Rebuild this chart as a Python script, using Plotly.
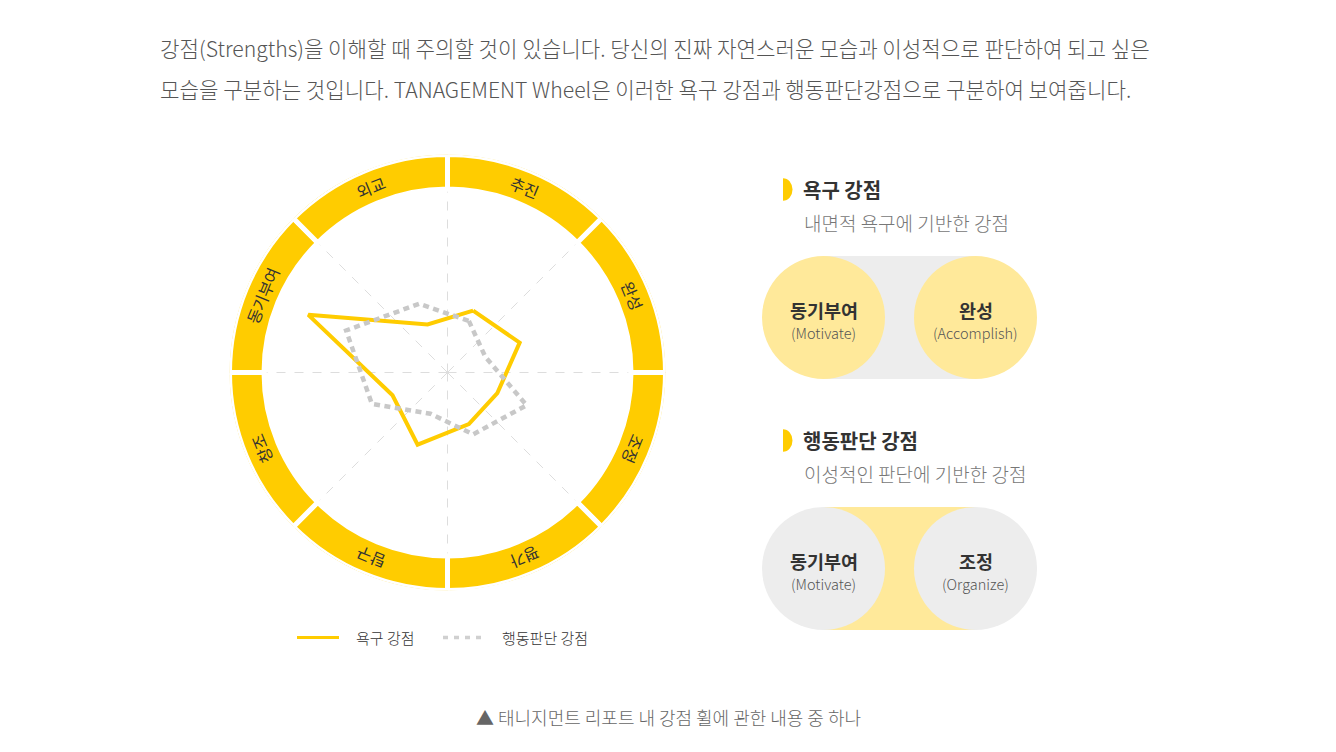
import math
import plotly.graph_objects as go

W, H = 1336, 752
FONT = 'Noto Sans CJK KR'

# wheel data (clockwise from the top)
categories = ['추진', '완성', '조정', '평가', '탐구', '창조', '동기부여', '외교']
desire = [36, 42, 29, 30, 42, 32, 81, 28]
judgement = [30, 22, 46, 36, 24, 44, 59, 40]
series_names = ['욕구 강점', '행동판단 강점']

header_lines = [
    '강점(Strengths)을 이해할 때 주의할 것이 있습니다. 당신의 진짜 자연스러운 모습과 이성적으로 판단하여 되고 싶은',
    '모습을 구분하는 것입니다. TANAGEMENT Wheel은 이러한 욕구 강점과 행동판단강점으로 구분하여 보여줍니다.',
]
panel_titles = ['욕구 강점', '행동판단 강점']
panel_subtitles = ['내면적 욕구에 기반한 강점', '이성적인 판단에 기반한 강점']
pill_main = [['동기부여', '완성'], ['동기부여', '조정']]
pill_sub = [['(Motivate)', '(Accomplish)'], ['(Motivate)', '(Organize)']]
caption = '▲ 태니지먼트 리포트 내 강점 휠에 관한 내용 중 하나'

YELLOW = '#FFCC00'
LIGHT_YELLOW = '#FFE99A'
LIGHT_GRAY = '#EDEDED'
DOT_GRAY = '#C8C8C8'
DASH = '6px,4.5px'

# wheel geometry in page pixels
CX, CY = 447.5, 372.5
PX_PER_UNIT = 1.86      # 100 -> inner edge of the ring
R_PX = 218
R_MAX = R_PX / PX_PER_UNIT
GAP = 5

step = 360 / len(categories)
theta = [step / 2 + step * i for i in range(len(categories))]

fig = go.Figure()

# outer ring
fig.add_trace(go.Barpolar(
    theta=theta, r=[R_MAX - (100 - GAP / 2 / PX_PER_UNIT)] * len(categories),
    base=100 - GAP / 2 / PX_PER_UNIT, width=[step] * len(categories),
    marker=dict(color=YELLOW, line=dict(color='white', width=GAP)),
    hoverinfo='skip',
))

fig.add_trace(go.Scatterpolar(
    theta=theta + theta[:1], r=desire + desire[:1], mode='lines',
    name=series_names[0], line=dict(color=YELLOW, width=4), hoverinfo='skip',
))
fig.add_trace(go.Scatterpolar(
    theta=theta + theta[:1], r=judgement + judgement[:1], mode='lines',
    name=series_names[1], line=dict(color=DOT_GRAY, width=4.5, dash=DASH), hoverinfo='skip',
))

# invisible trace so the pixel axes exist
fig.add_trace(go.Scatter(x=[0], y=[0], mode='markers', marker=dict(opacity=0),
                         hoverinfo='skip'))

fig.update_layout(
    width=W, height=H, autosize=False,
    margin=dict(l=0, r=0, t=0, b=0),
    paper_bgcolor='white', plot_bgcolor='rgba(0,0,0,0)',
    font=dict(family=FONT, color='#333', weight=300),
    showlegend=False,
    xaxis=dict(range=[0, W], visible=False, fixedrange=True),
    yaxis=dict(range=[H, 0], visible=False, fixedrange=True),
    polar=dict(
        domain=dict(x=[(CX - R_PX) / W, (CX + R_PX) / W],
                    y=[1 - (CY + R_PX) / H, 1 - (CY - R_PX) / H]),
        bgcolor='rgba(0,0,0,0)',
        radialaxis=dict(range=[0, R_MAX], visible=False, showgrid=False),
        angularaxis=dict(
            direction='clockwise', rotation=90,
            tickvals=[step * i for i in range(len(categories))],
            showticklabels=False, ticks='', showline=False,
            gridcolor='#DDDDDD', gridwidth=1, griddash='dash',
            layer='below traces',
        ),
    ),
    hovermode=False,
)

# ring labels
for cat, t in zip(categories, theta):
    rl = (100 * PX_PER_UNIT + R_PX - GAP / 2) / 2
    fig.add_annotation(
        x=CX + rl * math.sin(math.radians(t)), y=CY - rl * math.cos(math.radians(t)),
        xref='x', yref='y', text=cat, showarrow=False, textangle=t,
        font=dict(size=16, color='#333', weight=400),
    )

# legend under the wheel
legend_keys = [dict(color=YELLOW, width=3, dash='solid'),
               dict(color='#D0D0D0', width=3.5, dash='5px,6px')]
for name, key, lx in zip(series_names, legend_keys, [297, 443]):
    fig.add_shape(type='line', xref='x', yref='y', x0=lx, x1=lx + 42, y0=637.5, y1=637.5,
                  line=key)
    fig.add_annotation(x=lx + 57, y=637.5, xref='x', yref='y', xanchor='left',
                       text=name, showarrow=False,
                       font=dict(size=15, color='#333', weight=300))

# header
for i, line in enumerate(header_lines):
    fig.add_annotation(x=158, y=47 + 41 * i, xref='x', yref='y', xanchor='left',
                       text=line, showarrow=False,
                       font=dict(size=21.2, color='#555', weight=300))

# right panel
PILL_L, PILL_R, PILL_RAD = 823.5, 975.5, 61.5
for i in range(2):
    ty = 189.5 + 251 * i
    py = 317.5 + 251 * i
    fig.add_shape(type='circle', xref='x', yref='y', x0=773.5, x1=792.5,
                  y0=ty - 11.3, y1=ty + 11.3, fillcolor=YELLOW, line=dict(width=0))
    fig.add_shape(type='rect', xref='x', yref='y', x0=770, x1=783,
                  y0=ty - 13, y1=ty + 13, fillcolor='white', line=dict(width=0))
    fig.add_annotation(x=801, y=ty, xref='x', yref='y', xanchor='left',
                       text=f'<b>{panel_titles[i]}</b>', showarrow=False,
                       font=dict(size=20, color='#333'))
    fig.add_annotation(x=802, y=ty + 33, xref='x', yref='y', xanchor='left',
                       text=panel_subtitles[i], showarrow=False,
                       font=dict(size=19, color='#777', weight=300))
    band, dot = (LIGHT_GRAY, LIGHT_YELLOW) if i == 0 else (LIGHT_YELLOW, LIGHT_GRAY)
    fig.add_shape(type='rect', xref='x', yref='y', x0=PILL_L, x1=PILL_R,
                  y0=py - PILL_RAD, y1=py + PILL_RAD, fillcolor=band, line=dict(width=0))
    for j, pxc in enumerate([PILL_L, PILL_R]):
        fig.add_shape(type='circle', xref='x', yref='y',
                      x0=pxc - PILL_RAD, x1=pxc + PILL_RAD,
                      y0=py - PILL_RAD, y1=py + PILL_RAD,
                      fillcolor=dot, line=dict(width=0))
        fig.add_annotation(x=pxc, y=py - 8, xref='x', yref='y',
                           text=f'<b>{pill_main[i][j]}</b>', showarrow=False,
                           font=dict(size=18.5, color='#333'))
        fig.add_annotation(x=pxc, y=py + 15, xref='x', yref='y',
                           text=pill_sub[i][j], showarrow=False,
                           font=dict(size=14.5, color='#555', weight=300))

# caption
fig.add_annotation(x=W / 2, y=717, xref='x', yref='y', text=caption, showarrow=False,
                   font=dict(size=18, color='#666', weight=300))

fig.write_html('out.html', config={'displayModeBar': False},
               post_script="document.body.style.margin = '0';")
